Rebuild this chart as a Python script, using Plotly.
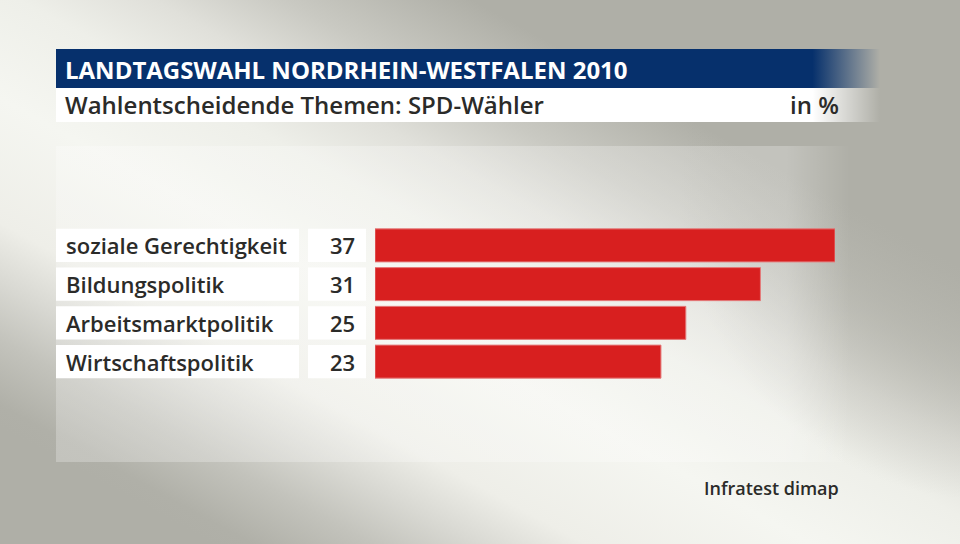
import base64
import plotly.graph_objects as go

# ---- data ----
categories = ["soziale Gerechtigkeit", "Bildungspolitik", "Arbeitsmarktpolitik", "Wirtschaftspolitik"]
values = [37, 31, 25, 23]
title_text = "LANDTAGSWAHL NORDRHEIN-WESTFALEN 2010"
subtitle_text = "Wahlentscheidende Themen: SPD-Wähler"
unit_text = "in %"
source_text = "Infratest dimap"

# ---- layout geometry (pixels) ----
W, H = 960, 544
L, R, T, B = 375, 835, 226, 381  # plot area in pixels


def px(p):
    return (p - L) / (R - L)


def py(p):
    return (B - p) / (B - T)


FONT = "Open Sans"
DARK = "#2b2b29"
RED = "#d81f1f"
NAVY = "#06306c"

# background svg (decoration only)
svg = f'''<svg xmlns="http://www.w3.org/2000/svg" width="{W}" height="{H}" viewBox="0 0 {W} {H}" preserveAspectRatio="none">
<defs>
<linearGradient id="bg" gradientUnits="userSpaceOnUse" x1="583" y1="17" x2="275" y2="578">
<stop offset="0" stop-color="#afafa7"/>
<stop offset="0.06" stop-color="#afafa7"/>
<stop offset="0.2" stop-color="#c9c9c2"/>
<stop offset="0.3" stop-color="#e0e0da"/>
<stop offset="0.4" stop-color="#eeefe9"/>
<stop offset="0.55" stop-color="#f5f6f1"/>
<stop offset="0.72" stop-color="#eeeee8"/>
<stop offset="0.8" stop-color="#d9d9d3"/>
<stop offset="0.88" stop-color="#c3c3bc"/>
<stop offset="0.97" stop-color="#b0b0a8"/>
<stop offset="1" stop-color="#afafa7"/>
</linearGradient>
<radialGradient id="shade" gradientUnits="userSpaceOnUse" cx="990" cy="190" r="310">
<stop offset="0" stop-color="#afafa7" stop-opacity="0.95"/>
<stop offset="0.5" stop-color="#afafa7" stop-opacity="0.6"/>
<stop offset="1" stop-color="#afafa7" stop-opacity="0"/>
</radialGradient>
<linearGradient id="panel" gradientUnits="userSpaceOnUse" x1="56" y1="0" x2="850" y2="0">
<stop offset="0" stop-color="#ffffff" stop-opacity="0.25"/>
<stop offset="0.92" stop-color="#ffffff" stop-opacity="0.25"/>
<stop offset="1" stop-color="#ffffff" stop-opacity="0"/>
</linearGradient>
<linearGradient id="navy" gradientUnits="userSpaceOnUse" x1="56" y1="0" x2="880" y2="0">
<stop offset="0" stop-color="{NAVY}" stop-opacity="1"/>
<stop offset="0.918" stop-color="{NAVY}" stop-opacity="1"/>
<stop offset="1" stop-color="{NAVY}" stop-opacity="0"/>
</linearGradient>
<linearGradient id="white" gradientUnits="userSpaceOnUse" x1="56" y1="0" x2="880" y2="0">
<stop offset="0" stop-color="#ffffff" stop-opacity="1"/>
<stop offset="0.918" stop-color="#ffffff" stop-opacity="1"/>
<stop offset="1" stop-color="#ffffff" stop-opacity="0"/>
</linearGradient>
</defs>
<rect x="0" y="0" width="{W}" height="{H}" fill="url(#bg)"/>
<rect x="0" y="0" width="{W}" height="{H}" fill="url(#shade)"/>
<rect x="56" y="146" width="800" height="316" fill="url(#panel)"/>
<rect x="56" y="49" width="824" height="39" fill="url(#navy)"/>
<rect x="56" y="88" width="824" height="34" fill="url(#white)"/>
</svg>'''
svg_uri = "data:image/svg+xml;base64," + base64.b64encode(svg.encode("utf-8")).decode("ascii")

fig = go.Figure()
fig.add_trace(go.Bar(
    x=values,
    y=categories,
    orientation="h",
    marker=dict(color=RED, line=dict(color="#e47a7a", width=1)),
    hoverinfo="skip",
))

shapes = []
annotations = []
half = 0.426
for i, (cat, val) in enumerate(zip(categories, values)):
    shapes.append(dict(type="rect", xref="paper", yref="y", x0=px(56), x1=px(299),
                       y0=i - half, y1=i + half, fillcolor="white", line=dict(width=0), layer="below"))
    shapes.append(dict(type="rect", xref="paper", yref="y", x0=px(308), x1=px(366),
                       y0=i - half, y1=i + half, fillcolor="white", line=dict(width=0), layer="below"))
    annotations.append(dict(xref="paper", yref="y", x=px(64), y=i, text=cat, showarrow=False,
                            xanchor="left", yanchor="middle",
                            font=dict(family=FONT, size=22, color=DARK, weight=600)))
    annotations.append(dict(xref="paper", yref="y", x=px(357), y=i, text=str(val), showarrow=False,
                            xanchor="right", yanchor="middle",
                            font=dict(family=FONT, size=22, color=DARK, weight=600)))

annotations += [
    dict(xref="paper", yref="paper", x=px(63), y=py(69), text=title_text, showarrow=False,
         xanchor="left", yanchor="middle", font=dict(family=FONT, size=24, color="white", weight=700)),
    dict(xref="paper", yref="paper", x=px(63), y=py(105), text=subtitle_text, showarrow=False,
         xanchor="left", yanchor="middle", font=dict(family=FONT, size=24, color=DARK, weight=600)),
    dict(xref="paper", yref="paper", x=px(841), y=py(105), text=unit_text, showarrow=False,
         xanchor="right", yanchor="middle", font=dict(family=FONT, size=24, color=DARK, weight=600)),
    dict(xref="paper", yref="paper", x=px(841), y=py(488), text=source_text, showarrow=False,
         xanchor="right", yanchor="middle", font=dict(family=FONT, size=18, color=DARK, weight=600)),
]

fig.update_layout(
    width=W, height=H,
    margin=dict(l=L, r=W - R, t=T, b=H - B, pad=0),
    paper_bgcolor="#afafa7",
    plot_bgcolor="rgba(0,0,0,0)",
    showlegend=False,
    bargap=0.148,
    xaxis=dict(range=[0, 37], visible=False, fixedrange=True),
    yaxis=dict(autorange="reversed", visible=False, fixedrange=True),
    shapes=shapes,
    annotations=annotations,
    images=[dict(source=svg_uri, xref="paper", yref="paper", x=px(0), y=py(0),
                 sizex=W / (R - L), sizey=H / (B - T), xanchor="left", yanchor="top",
                 sizing="stretch", layer="below")],
)

fig.write_html("out.html", config=dict(displayModeBar=False, staticPlot=True),
               post_script="document.body.style.margin='0';document.body.style.overflow='hidden';")
